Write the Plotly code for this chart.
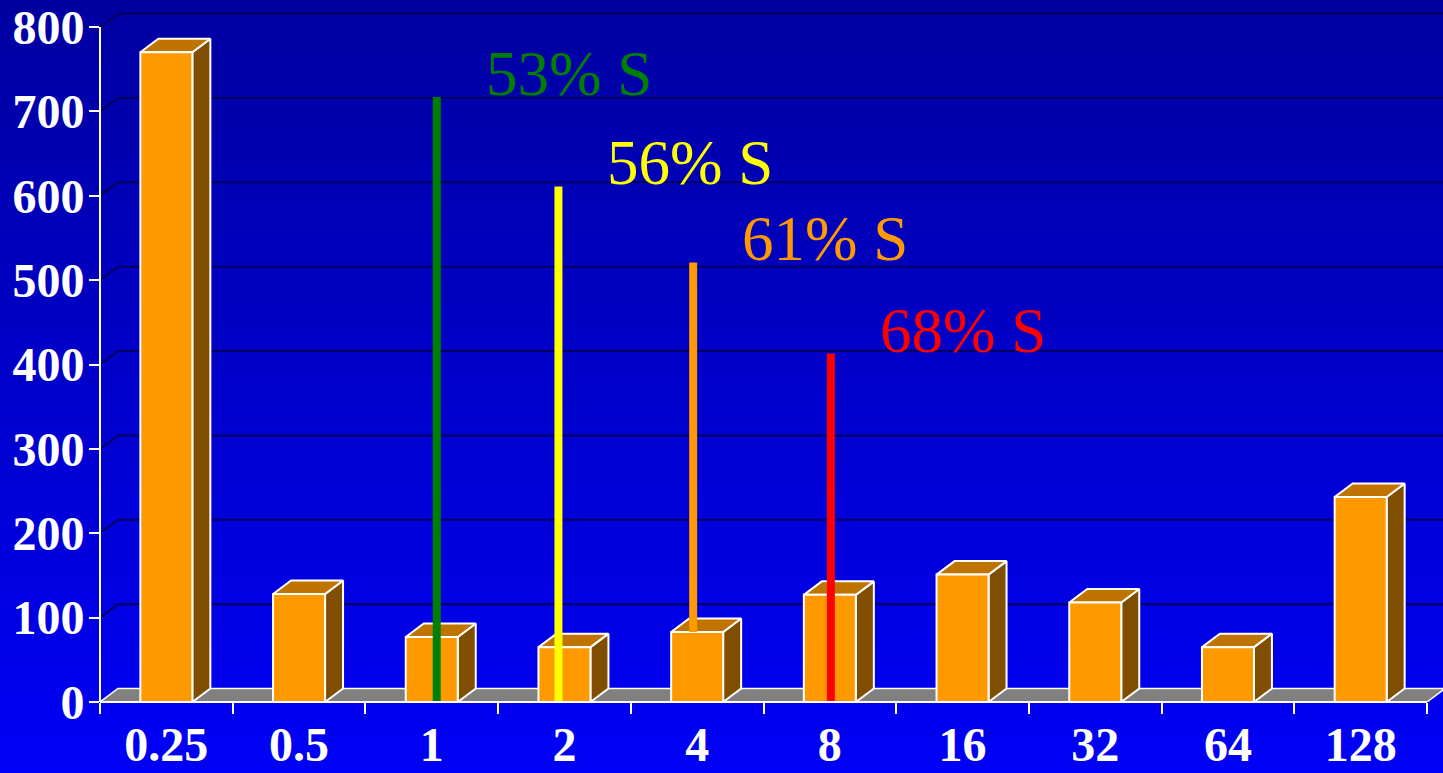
import plotly.graph_objects as go

# ---- data -------------------------------------------------------------
categories = ["0.25", "0.5", "1", "2", "4", "8", "16", "32", "64", "128"]
counts = [770, 128, 77, 65, 83, 127, 151, 118, 65, 243]
y_ticks = [0, 100, 200, 300, 400, 500, 600, 700, 800]

marker_labels = ["53% S", "56% S", "61% S", "68% S"]
marker_category = ["1", "2", "4", "8"]
marker_top = [717, 611, 521, 413]
marker_base = [0, 0, counts[categories.index("4")], 0]

# ---- styling ----------------------------------------------------------
W, H = 1443, 773
ML, MR, MT, MB = 100, 0, 0, 71
PW, PH = W - ML - MR, H - MT - MB
CAT_PX = 132.7                 # pixels per category
Y_TOP = 800                    # top tick value
Y_PX = 675                     # pixels from 0 to Y_TOP
UNIT_PER_PX = Y_TOP / Y_PX

x_min = -0.5
x_max = x_min + PW / CAT_PX
y_max = PH * UNIT_PER_PX

depth_dx = 18 / CAT_PX         # oblique depth of the 3-D boxes
depth_dy = 13.5 * UNIT_PER_PX
bar_w = 52 / CAT_PX

marker_colors = ["#008000", "#FFFF00", "#FF9900", "#FF0000"]
marker_nudge_px = [5, -6, -4, 1]

FRONT = "#FF9900"
TOP = "#C07400"
SIDE = "#804E00"
FLOOR = "#808080"
GRID = "#00005C"
SERIF = "Liberation Serif, Times New Roman, serif"

fig = go.Figure()

# back-wall gridlines with the short oblique run from the axis
gx, gy = [], []
for v in y_ticks[1:]:
    gx += [x_min, x_min + depth_dx, x_max, None]
    gy += [v, v + depth_dy, v + depth_dy, None]
fig.add_trace(go.Scatter(x=gx, y=gy, mode="lines",
                         line=dict(color=GRID, width=2),
                         hoverinfo="skip", showlegend=False))

# floor slab
n = len(categories)
x_end = x_min + n
fig.add_trace(go.Scatter(
    x=[x_min, x_end, x_end + depth_dx, x_min + depth_dx, x_min],
    y=[0, 0, depth_dy, depth_dy, 0],
    mode="lines", fill="toself", fillcolor=FLOOR,
    line=dict(color="white", width=1.5),
    hoverinfo="skip", showlegend=False))

# 3-D bars: side, top and front faces
sx, sy, tx, ty, fx, fy = [], [], [], [], [], []
for i, v in enumerate(counts):
    l, r = i - bar_w / 2, i + bar_w / 2
    sx += [r, r + depth_dx, r + depth_dx, r, r, None]
    sy += [0, depth_dy, v + depth_dy, v, 0, None]
    tx += [l, r, r + depth_dx, l + depth_dx, l, None]
    ty += [v, v, v + depth_dy, v + depth_dy, v, None]
    fx += [l, r, r, l, l, None]
    fy += [0, 0, v, v, 0, None]
for xs, ys, col in [(sx, sy, SIDE), (tx, ty, TOP), (fx, fy, FRONT)]:
    fig.add_trace(go.Scatter(x=xs, y=ys, mode="lines", fill="toself",
                             fillcolor=col, line=dict(color="white", width=2),
                             hoverinfo="skip", showlegend=False))

# susceptibility breakpoint markers
annotations = []
for lab, cat, top, base, col, nudge in zip(marker_labels, marker_category,
                                           marker_top, marker_base,
                                           marker_colors, marker_nudge_px):
    xc = categories.index(cat) + nudge / CAT_PX
    fig.add_trace(go.Scatter(x=[xc, xc], y=[base, top], mode="lines",
                             line=dict(color=col, width=8),
                             hoverinfo="skip", showlegend=False))
    annotations.append(dict(
        x=xc, y=top, xref="x", yref="y", text=lab, showarrow=False,
        xanchor="left", yanchor="bottom", xshift=47, yshift=-14,
        font=dict(family=SERIF, size=63, color=col)))

# vertical background gradient
shapes = []
bands = 120
c_top, c_bot = 160, 246
for k in range(bands):
    p0 = k * H / bands
    p1 = (k + 1) * H / bands + 1
    b = round(c_top + (c_bot - c_top) * (k + 0.5) / bands)
    shapes.append(dict(
        type="rect", xref="paper", yref="paper", layer="below",
        x0=-ML / PW, x1=1 + MR / PW,
        y0=(PH + MT - p1) / PH, y1=(PH + MT - p0) / PH,
        fillcolor=f"rgb(0,0,{b})", line=dict(width=0)))

# axis lines
shapes.append(dict(type="line", xref="paper", yref="paper",
                   x0=0, x1=0, y0=0, y1=Y_TOP / y_max,
                   line=dict(color="white", width=2)))
shapes.append(dict(type="line", xref="paper", yref="paper",
                   x0=0, x1=(x_end - x_min) / (x_max - x_min), y0=0, y1=0,
                   line=dict(color="white", width=2)))

tick_font = dict(family=SERIF, size=48, color="white", weight="bold")

fig.update_layout(
    width=W, height=H,
    margin=dict(l=ML, r=MR, t=MT, b=MB, pad=0, autoexpand=False),
    paper_bgcolor="rgb(0,0,246)",
    plot_bgcolor="rgba(0,0,0,0)",
    shapes=shapes,
    annotations=annotations,
    showlegend=False,
    xaxis=dict(
        range=[x_min, x_max], showgrid=False, zeroline=False, showline=False,
        tickmode="array", tickvals=list(range(n)), ticktext=categories,
        ticks="", tickfont=tick_font, ticklabelstandoff=10, automargin=False,
        minor=dict(tickmode="array",
                   tickvals=[x_min + k for k in range(n + 1)],
                   ticks="outside", ticklen=11, tickwidth=2,
                   tickcolor="white"),
        fixedrange=True),
    yaxis=dict(
        range=[0, y_max], showgrid=False, zeroline=False, showline=False,
        tickmode="array", tickvals=y_ticks, ticks="outside", ticklen=10,
        tickwidth=2, tickcolor="white", tickfont=tick_font,
        ticklabelstandoff=-5, automargin=False, fixedrange=True),
)

fig.write_html("out.html")
